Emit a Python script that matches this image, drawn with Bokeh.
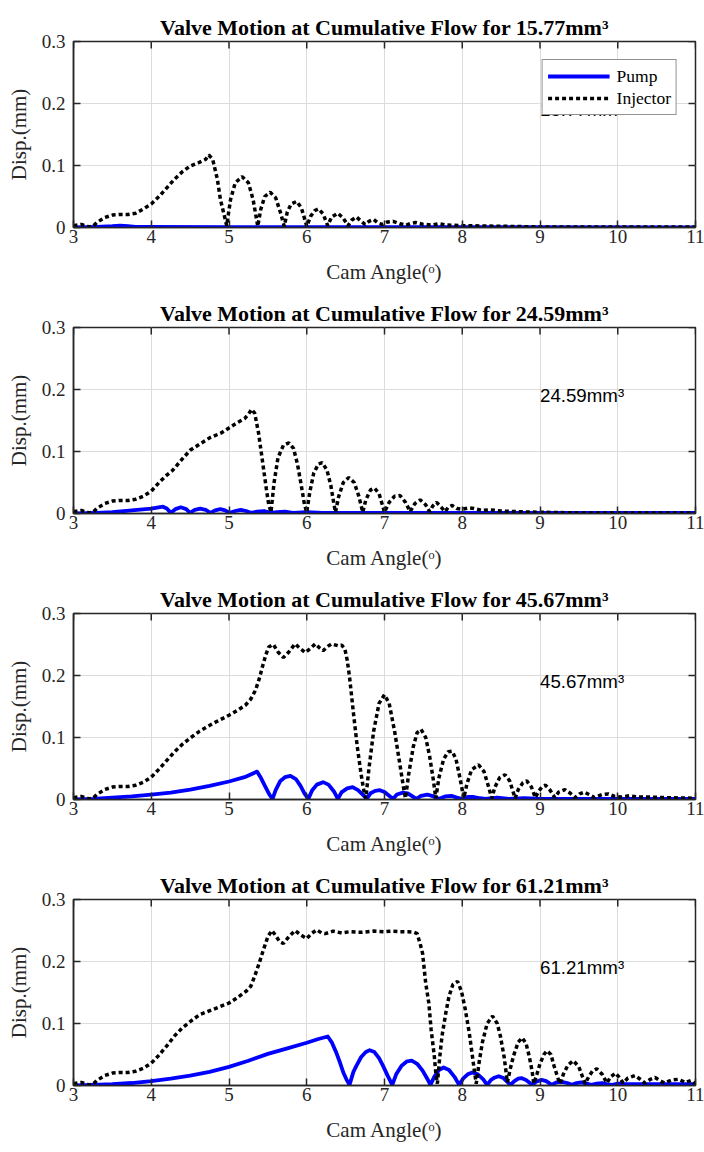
import math
from bokeh.plotting import figure
from bokeh.layouts import column
from bokeh.models import (Range1d, FixedTicker, Legend, LegendItem, ColumnDataSource)
from bokeh.embed import file_html
from bokeh.resources import INLINE
from bokeh.core.properties import value

# ---------------- data ----------------
flows = ["15.77", "24.59", "45.67", "61.21"]
x_ticks = [3, 4, 5, 6, 7, 8, 9, 10, 11]
y_ticks = [0, 0.1, 0.2, 0.3]
x_min, x_max = 3, 11
y_min, y_max = 0, 0.3

# Panel 1 (15.77 mm3)
inj1_x = [3.0, 3.05, 3.1, 3.15, 3.2, 3.25, 3.3, 3.4, 3.5, 3.6, 3.7, 3.8, 3.9, 4.0, 4.1, 4.2, 4.3, 4.4, 4.5, 4.6, 4.7,
          4.74, 4.79, 4.85, 4.89, 4.94, 4.97,
          5.02, 5.08, 5.17, 5.25, 5.31, 5.37,
          5.41, 5.46, 5.53, 5.6, 5.66, 5.71,
          5.75, 5.8, 5.87, 5.93, 5.97, 6.0,
          6.05, 6.1, 6.15, 6.21, 6.27,
          6.32, 6.4, 6.47, 6.53,
          6.58, 6.64, 6.7, 6.75,
          6.8, 6.86, 6.92, 6.97,
          7.04, 7.11, 7.2, 7.28,
          7.34, 7.4, 7.5, 7.62, 7.7, 7.8, 8.0, 8.5, 9.0, 11.0]
inj1_y = [0.003, 0.004, 0.005, 0.003, 0.001, 0.002, 0.008, 0.016, 0.02, 0.021, 0.021, 0.023, 0.03, 0.038, 0.05, 0.064, 0.078, 0.09, 0.099, 0.104, 0.11,
          0.117, 0.11, 0.078, 0.045, 0.019, 0.003,
          0.045, 0.072, 0.082, 0.072, 0.045, 0.002,
          0.03, 0.05, 0.057, 0.048, 0.025, 0.002,
          0.025, 0.038, 0.042, 0.032, 0.015, 0.002,
          0.018, 0.027, 0.03, 0.022, 0.003,
          0.017, 0.023, 0.015, 0.003,
          0.012, 0.017, 0.01, 0.005,
          0.01, 0.013, 0.007, 0.005,
          0.009, 0.01, 0.006, 0.004,
          0.007, 0.008, 0.005, 0.004, 0.006, 0.004, 0.003, 0.002, 0.001, 0.001]
pump1_x = [3.0, 3.3, 3.5, 3.6, 3.7, 3.8, 4.0, 5.0, 11.0]
pump1_y = [0.0, 0.001, 0.002, 0.003, 0.002, 0.001, 0.001, 0.0005, 0.0003]

# Panel 2 (24.59 mm3)
inj2_x = [3.0, 3.05, 3.1, 3.15, 3.2, 3.25, 3.3, 3.4, 3.5, 3.6, 3.7, 3.8, 3.9, 4.0, 4.1, 4.2, 4.27, 4.4, 4.5, 4.6, 4.75,
          4.9, 5.0, 5.1, 5.2, 5.25, 5.29, 5.33, 5.38, 5.43, 5.48, 5.51, 5.54,
          5.58, 5.63, 5.7, 5.77, 5.83, 5.88, 5.93, 5.97, 6.0,
          6.04, 6.09, 6.15, 6.2, 6.26, 6.31, 6.35, 6.37,
          6.41, 6.47, 6.54, 6.61, 6.67, 6.72,
          6.76, 6.82, 6.87, 6.93, 6.97, 7.0,
          7.06, 7.13, 7.2, 7.27, 7.33,
          7.39, 7.46, 7.53, 7.58,
          7.62, 7.67, 7.73, 7.78,
          7.82, 7.87, 7.93, 8.0, 8.08, 8.15, 8.25, 8.35, 8.5, 8.7, 9.0, 9.5, 11.0]
inj2_y = [0.003, 0.004, 0.005, 0.003, 0.001, 0.002, 0.008, 0.016, 0.02, 0.021, 0.021, 0.023, 0.028, 0.036, 0.05, 0.062, 0.069, 0.088, 0.102, 0.11, 0.122,
          0.13, 0.138, 0.146, 0.153, 0.16, 0.168, 0.162, 0.13, 0.085, 0.04, 0.015, 0.002,
          0.05, 0.09, 0.11, 0.114, 0.105, 0.08, 0.045, 0.015, 0.002,
          0.035, 0.065, 0.08, 0.082, 0.07, 0.045, 0.015, 0.002,
          0.027, 0.05, 0.058, 0.05, 0.028, 0.002,
          0.022, 0.038, 0.041, 0.032, 0.015, 0.002,
          0.018, 0.028, 0.029, 0.018, 0.003,
          0.016, 0.022, 0.014, 0.003,
          0.012, 0.018, 0.01, 0.003,
          0.01, 0.013, 0.008, 0.007, 0.009, 0.008, 0.005, 0.006, 0.004, 0.003, 0.002, 0.001, 0.001]
pump2_x = [3.0, 3.3, 3.5, 3.75, 4.0, 4.15, 4.2, 4.25,
           4.31, 4.38, 4.45, 4.5,
           4.56, 4.63, 4.7, 4.76,
           4.82, 4.89, 4.95, 5.01,
           5.08, 5.15, 5.22, 5.28,
           5.36, 5.45, 5.53,
           5.62, 5.72, 5.82, 6.0, 6.2, 11.0]
pump2_y = [0.0, 0.001, 0.002, 0.005, 0.008, 0.011, 0.008, 0.001,
           0.007, 0.01, 0.007, 0.001,
           0.006, 0.008, 0.006, 0.001,
           0.005, 0.007, 0.005, 0.001,
           0.004, 0.006, 0.004, 0.001,
           0.003, 0.004, 0.001,
           0.002, 0.003, 0.001, 0.002, 0.001, 0.001]

# Panel 3 (45.67 mm3)
inj3_x = [3.0, 3.05, 3.1, 3.15, 3.2, 3.25, 3.3, 3.4, 3.5, 3.6, 3.7, 3.8, 3.9, 4.0, 4.1, 4.2, 4.3, 4.4, 4.5, 4.62, 4.8,
          5.0, 5.1, 5.21, 5.28, 5.34, 5.39, 5.43, 5.47, 5.51, 5.57, 5.63, 5.7, 5.77, 5.85, 5.92, 5.98, 6.05, 6.11,
          6.16, 6.21, 6.27, 6.32, 6.4, 6.45, 6.49, 6.52, 6.55, 6.6, 6.65, 6.7, 6.74, 6.76,
          6.8, 6.86, 6.93, 7.0, 7.06, 7.13, 7.2, 7.25, 7.27,
          7.31, 7.37, 7.42, 7.47, 7.53, 7.58, 7.63, 7.66,
          7.7, 7.76, 7.82, 7.87, 7.92, 7.97, 8.02,
          8.06, 8.12, 8.21, 8.28, 8.34, 8.38,
          8.42, 8.48, 8.55, 8.61, 8.66, 8.68,
          8.72, 8.78, 8.83, 8.89, 8.94,
          8.98, 9.03, 9.07, 9.13, 9.19,
          9.24, 9.32, 9.39, 9.45,
          9.51, 9.57, 9.63, 9.7,
          9.8, 9.88, 9.96, 10.05, 10.15, 10.25, 10.4, 10.6, 11.0]
inj3_y = [0.003, 0.004, 0.005, 0.003, 0.001, 0.002, 0.008, 0.016, 0.02, 0.021, 0.021, 0.023, 0.028, 0.036, 0.049, 0.063, 0.077, 0.089, 0.099, 0.11, 0.123,
          0.136, 0.143, 0.152, 0.162, 0.176, 0.195, 0.214, 0.232, 0.246, 0.25, 0.238, 0.229, 0.238, 0.251, 0.243, 0.237, 0.244, 0.251,
          0.245, 0.24, 0.247, 0.251, 0.248, 0.249, 0.243, 0.225, 0.198, 0.14, 0.085, 0.04, 0.01, 0.002,
          0.05, 0.11, 0.155, 0.169, 0.155, 0.11, 0.055, 0.015, 0.002,
          0.04, 0.085, 0.108, 0.113, 0.1, 0.07, 0.03, 0.002,
          0.035, 0.065, 0.077, 0.078, 0.065, 0.035, 0.002,
          0.025, 0.048, 0.056, 0.045, 0.02, 0.002,
          0.02, 0.035, 0.04, 0.03, 0.01, 0.002,
          0.016, 0.027, 0.03, 0.02, 0.003,
          0.013, 0.021, 0.023, 0.015, 0.003,
          0.012, 0.016, 0.01, 0.003,
          0.009, 0.012, 0.008, 0.003,
          0.008, 0.009, 0.005, 0.004, 0.006, 0.004, 0.004, 0.003, 0.002]
pump3_x = [3.0, 3.25, 3.5, 3.75, 4.0, 4.25, 4.5, 4.75, 5.0, 5.2, 5.36, 5.41, 5.47, 5.52, 5.56,
           5.6, 5.66, 5.72, 5.79, 5.86, 5.92, 5.97, 6.02,
           6.07, 6.13, 6.21, 6.28, 6.35, 6.4,
           6.45, 6.52, 6.59, 6.66, 6.72, 6.77,
           6.82, 6.88, 6.94, 7.0, 7.06, 7.11,
           7.16, 7.23, 7.3, 7.36, 7.41,
           7.47, 7.55, 7.63, 7.7,
           7.78, 7.86, 7.93, 7.99,
           8.07, 8.15, 8.23, 8.3,
           8.45, 8.6, 8.8, 9.0, 11.0]
pump3_y = [0.0, 0.001, 0.003, 0.005, 0.008, 0.011, 0.016, 0.022, 0.029, 0.036, 0.045, 0.035, 0.02, 0.008, 0.001,
           0.015, 0.03, 0.036, 0.038, 0.033, 0.022, 0.01, 0.001,
           0.015, 0.024, 0.028, 0.024, 0.013, 0.001,
           0.012, 0.018, 0.02, 0.015, 0.008, 0.001,
           0.01, 0.014, 0.015, 0.012, 0.006, 0.001,
           0.008, 0.011, 0.01, 0.005, 0.001,
           0.006, 0.008, 0.005, 0.001,
           0.005, 0.006, 0.003, 0.001,
           0.004, 0.004, 0.002, 0.001,
           0.003, 0.001, 0.002, 0.001, 0.001]

# Panel 4 (61.21 mm3)
inj4_x = [3.0, 3.05, 3.1, 3.15, 3.2, 3.25, 3.3, 3.4, 3.5, 3.6, 3.7, 3.8, 3.9, 4.0, 4.1, 4.2, 4.3, 4.4, 4.5, 4.62, 4.8,
          5.0, 5.1, 5.22, 5.28, 5.33, 5.39, 5.44, 5.5, 5.55, 5.6, 5.65, 5.7, 5.77, 5.85, 5.92, 6.0, 6.06, 6.13,
          6.19, 6.24, 6.34, 6.45, 6.55, 6.7, 6.85, 7.0, 7.1, 7.2, 7.3, 7.38, 7.42, 7.46, 7.49, 7.53, 7.57, 7.6,
          7.64, 7.66, 7.68,
          7.71, 7.74, 7.79, 7.83, 7.88, 7.94, 7.99, 8.04, 8.09, 8.13, 8.16, 8.18,
          8.22, 8.26, 8.32, 8.39, 8.45, 8.49, 8.54, 8.58,
          8.62, 8.66, 8.72, 8.77, 8.82, 8.86, 8.9, 8.92,
          8.96, 9.0, 9.05, 9.09, 9.14, 9.18, 9.23, 9.26,
          9.3, 9.36, 9.43, 9.5, 9.55, 9.58,
          9.63, 9.68, 9.73, 9.8, 9.86,
          9.91, 9.97, 10.02, 10.07,
          10.13, 10.22, 10.29, 10.35,
          10.42, 10.48, 10.54, 10.6,
          10.7, 10.78, 10.87, 10.94, 11.0]
inj4_y = [0.003, 0.004, 0.005, 0.003, 0.001, 0.002, 0.008, 0.016, 0.02, 0.021, 0.021, 0.023, 0.028, 0.036, 0.049, 0.064, 0.08, 0.093, 0.103, 0.114, 0.123,
          0.133, 0.141, 0.152, 0.16, 0.176, 0.198, 0.218, 0.24, 0.25, 0.242, 0.232, 0.229, 0.24, 0.25, 0.243, 0.237, 0.245, 0.251,
          0.246, 0.245, 0.249, 0.246, 0.248, 0.247, 0.249, 0.248, 0.249, 0.248, 0.248, 0.247, 0.245, 0.228, 0.213, 0.165, 0.133, 0.09,
          0.048, 0.02, 0.003,
          0.045, 0.08, 0.118, 0.144, 0.163, 0.168, 0.152, 0.122, 0.085, 0.048, 0.02, 0.003,
          0.04, 0.07, 0.1, 0.112, 0.1, 0.08, 0.045, 0.005,
          0.028, 0.048, 0.07, 0.077, 0.068, 0.048, 0.022, 0.003,
          0.018, 0.035, 0.05, 0.056, 0.05, 0.032, 0.012, 0.003,
          0.018, 0.033, 0.04, 0.03, 0.013, 0.003,
          0.015, 0.024, 0.027, 0.018, 0.004,
          0.014, 0.02, 0.013, 0.004,
          0.012, 0.016, 0.01, 0.004,
          0.01, 0.013, 0.008, 0.004,
          0.009, 0.01, 0.005, 0.008, 0.003]
pump4_x = [3.0, 3.25, 3.5, 3.75, 4.0, 4.25, 4.5, 4.75, 5.0, 5.25, 5.5, 5.75, 6.0, 6.15, 6.27,
           6.32, 6.38, 6.43, 6.47, 6.51, 6.55,
           6.6, 6.64, 6.7, 6.76, 6.81, 6.87, 6.93, 6.98, 7.04, 7.1,
           7.15, 7.22, 7.29, 7.35, 7.42, 7.49, 7.55, 7.59,
           7.64, 7.7, 7.76, 7.83, 7.9, 7.96,
           8.01, 8.07, 8.13, 8.2, 8.27, 8.32,
           8.37, 8.42, 8.47, 8.53, 8.58, 8.62,
           8.67, 8.72, 8.76, 8.82, 8.87, 8.9,
           8.95, 9.02, 9.08, 9.15,
           9.21, 9.28, 9.35, 9.41,
           9.47, 9.53, 9.6, 9.66,
           9.73, 9.8, 9.87, 9.93,
           10.0, 10.1, 10.3, 10.5, 10.8, 11.0]
pump4_y = [0.0, 0.001, 0.002, 0.004, 0.007, 0.011, 0.016, 0.022, 0.03, 0.04, 0.051, 0.06, 0.069, 0.075, 0.079,
           0.07, 0.053, 0.036, 0.021, 0.01, 0.001,
           0.022, 0.032, 0.046, 0.054, 0.057, 0.054, 0.044, 0.032, 0.016, 0.001,
           0.018, 0.032, 0.039, 0.04, 0.035, 0.024, 0.011, 0.001,
           0.014, 0.025, 0.029, 0.025, 0.014, 0.001,
           0.011, 0.018, 0.021, 0.018, 0.01, 0.001,
           0.009, 0.013, 0.015, 0.012, 0.006, 0.001,
           0.007, 0.011, 0.012, 0.009, 0.004, 0.001,
           0.006, 0.009, 0.007, 0.001,
           0.005, 0.006, 0.004, 0.001,
           0.004, 0.005, 0.003, 0.001,
           0.003, 0.004, 0.002, 0.001,
           0.003, 0.002, 0.002, 0.002, 0.002, 0.002]

label_pos_x = 9.0
label_pos_y = 0.19

panels = [
    (inj1_x, inj1_y, pump1_x, pump1_y),
    (inj2_x, inj2_y, pump2_x, pump2_y),
    (inj3_x, inj3_y, pump3_x, pump3_y),
    (inj4_x, inj4_y, pump4_x, pump4_y),
]

AX = "#262626"
SERIF = "Liberation Serif"
SANS = "Liberation Sans"

figs = []
for i, (ix, iy, px, py) in enumerate(panels):
    p = figure(width=704, height=286, x_range=Range1d(x_min, x_max), y_range=Range1d(y_min, y_max),
               output_backend="svg", toolbar_location=None,
               min_border_left=73, min_border_right=9, min_border_top=41, min_border_bottom=58)
    p.background_fill_color = "white"
    p.border_fill_color = "white"
    p.outline_line_color = AX
    p.outline_line_width = 1.5

    p.title.text = "Valve Motion at Cumulative Flow for " + flows[i] + "mm\u00b3"
    p.title.text_font = SERIF
    p.title.text_font_style = "bold"
    p.title.text_font_size = "22px"
    p.title.text_color = "black"
    p.title.align = "center"
    p.title.standoff = 4

    p.xaxis.ticker = FixedTicker(ticks=x_ticks)
    p.yaxis.ticker = FixedTicker(ticks=y_ticks)
    p.yaxis.major_label_overrides = {0: "0"}
    for ax in p.xaxis + p.yaxis:
        ax.major_tick_in = 7
        ax.major_tick_out = 0
        ax.minor_tick_in = 0
        ax.minor_tick_out = 0
        ax.axis_line_color = AX
        ax.axis_line_width = 1.5
        ax.major_tick_line_color = AX
        ax.major_tick_line_width = 1.5
        ax.major_label_text_font = SERIF
        ax.major_label_text_color = AX
        ax.major_label_text_font_size = "19px"
        ax.axis_label_text_font = SERIF
        ax.axis_label_text_font_style = "normal"
        ax.axis_label_text_font_size = "21px"
        ax.axis_label_text_color = AX
    p.xaxis.major_label_standoff = 2
    p.yaxis.major_label_standoff = 8
    p.xaxis.axis_label = "Cam Angle(\u1d52)"
    p.yaxis.axis_label = "Disp.(mm)"
    p.xaxis.axis_label_standoff = 14
    p.yaxis.axis_label_standoff = 8

    p.xgrid.ticker = FixedTicker(ticks=x_ticks)
    p.ygrid.ticker = FixedTicker(ticks=y_ticks)
    p.grid.grid_line_color = "#dcdcdc"
    p.grid.grid_line_width = 1

    r_pump = p.line(px, py, line_color="#0000ff", line_width=3.8, line_join="round")
    r_inj = p.line(ix, iy, line_color="black", line_width=3.5, line_dash="4 3")

    # inward ticks on the top and right edges of the box
    p.ray(x=x_ticks, y=[y_max] * len(x_ticks), length=7, length_units="screen",
          angle=-math.pi / 2, line_color=AX, line_width=1.5)
    p.ray(x=[x_max] * len(y_ticks), y=y_ticks, length=7, length_units="screen",
          angle=math.pi, line_color=AX, line_width=1.5)

    src = ColumnDataSource(dict(x=[label_pos_x], y=[label_pos_y], t=[flows[i] + "mm\u00b3"]))
    p.text(x="x", y="y", text="t", source=src, text_font=value(SANS), text_font_size="18.7px",
           text_baseline="middle", text_align="left", text_color="black")

    if i == 0:
        leg = Legend(items=[LegendItem(label="Pump", renderers=[r_pump]),
                            LegendItem(label="Injector", renderers=[r_inj])],
                     location="top_right")
        leg.border_line_color = AX
        leg.border_line_width = 1
        leg.background_fill_color = "white"
        leg.background_fill_alpha = 1
        leg.label_text_font = SERIF
        leg.label_text_font_size = "17.5px"
        leg.label_text_color = "black"
        leg.glyph_width = 62
        leg.glyph_height = 22
        leg.label_height = 22
        leg.spacing = 0
        leg.padding = 5
        leg.margin = 18
        leg.label_standoff = 7
        p.add_layout(leg)

    figs.append(p)

layout = column(*figs, spacing=0)
open("out.html", "w").write(file_html(layout, INLINE))
